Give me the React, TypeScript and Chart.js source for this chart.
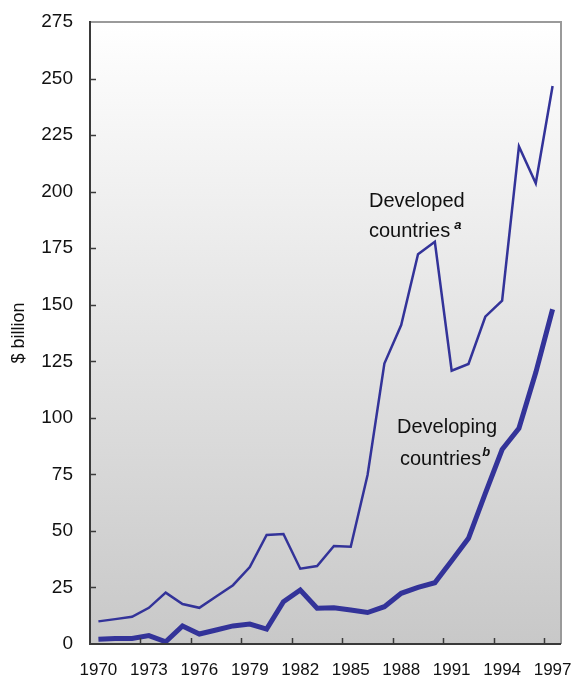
import React, { useEffect, useRef } from "react";
import { Chart, registerables } from "chart.js";

Chart.register(...registerables);

const years = [
  "1970", "1971", "1972", "1973", "1974", "1975", "1976", "1977", "1978", "1979",
  "1980", "1981", "1982", "1983", "1984", "1985", "1986", "1987", "1988", "1989",
  "1990", "1991", "1992", "1993", "1994", "1995", "1996", "1997",
];

const developed = [
  10, 11, 12, 16, 22.7, 17.7, 16, 21, 26, 34,
  48.2, 48.6, 33.3, 34.5, 43.3, 43, 74.7, 124, 141, 172.3,
  177.8, 120.8, 123.8, 144.7, 151.8, 220, 203.7, 246.7,
];

const developing = [
  2.1, 2.4, 2.4, 3.7, 1.0, 8, 4.4, 6.2, 8, 8.8,
  6.6, 18.7, 23.9, 15.8, 16, 15, 13.9, 16.5, 22.4, 25,
  27.1, 36.8, 46.7, 66.6, 86, 95.4, 120, 148,
];

const yMin = 0;
const yMax = 275;
const yStep = 25;
const labelEvery = 3;

const LINE_COLOR = "#333399";
const FONT = "'Liberation Sans', Arial, sans-serif";

const bgPlugin = {
  id: "bgGradient",
  beforeDraw(chart: any) {
    const { ctx, chartArea } = chart;
    const { left, top, right, bottom } = chartArea;
    const g = ctx.createLinearGradient(0, top, 0, bottom);
    g.addColorStop(0, "#ffffff");
    g.addColorStop(1, "#c8c8c8");
    ctx.save();
    ctx.fillStyle = g;
    ctx.fillRect(left, top, right - left, bottom - top);
    ctx.restore();
  },
};

const framePlugin = {
  id: "frame",
  afterDraw(chart: any) {
    const { ctx, chartArea, scales } = chart;
    const { left, top, right, bottom } = chartArea;
    const xs = scales.x;
    const ys = scales.y;
    ctx.save();
    // top & right border
    ctx.strokeStyle = "#9a9a9a";
    ctx.lineWidth = 2;
    ctx.beginPath();
    ctx.moveTo(left, top);
    ctx.lineTo(right, top);
    ctx.lineTo(right, bottom);
    ctx.stroke();
    // left & bottom axes
    ctx.strokeStyle = "#3a3a3a";
    ctx.lineWidth = 2;
    ctx.beginPath();
    ctx.moveTo(left, top - 1);
    ctx.lineTo(left, bottom);
    ctx.lineTo(right, bottom);
    ctx.stroke();
    // y ticks (inside)
    ctx.lineWidth = 1.5;
    for (let v = yMin + yStep; v < yMax; v += yStep) {
      const py = Math.round(ys.getPixelForValue(v)) + 0.5;
      ctx.beginPath();
      ctx.moveTo(left, py);
      ctx.lineTo(left + 6, py);
      ctx.stroke();
    }
    // x ticks (inside) at category boundaries
    const half = (xs.getPixelForValue(1) - xs.getPixelForValue(0)) / 2;
    for (let i = labelEvery; i < years.length; i += labelEvery) {
      const px = Math.round(xs.getPixelForValue(i) - half) + 0.5;
      ctx.beginPath();
      ctx.moveTo(px, bottom);
      ctx.lineTo(px, bottom - 6);
      ctx.stroke();
    }
    // annotations
    ctx.fillStyle = "#111111";
    ctx.textBaseline = "alphabetic";
    ctx.textAlign = "left";
    ctx.font = `20px ${FONT}`;
    ctx.fillText("Developed", 369, 207);
    ctx.fillText("countries", 369, 237);
    let w = ctx.measureText("countries").width;
    ctx.font = `italic bold 13px ${FONT}`;
    ctx.fillText("a", 369 + w + 4, 229);

    ctx.font = `20px ${FONT}`;
    ctx.fillText("Developing", 397, 433);
    ctx.fillText("countries", 400, 465);
    w = ctx.measureText("countries").width;
    ctx.font = `italic bold 13px ${FONT}`;
    ctx.fillText("b", 400 + w + 1, 456);
    ctx.restore();
  },
};

export default function App() {
  const canvasRef = useRef<HTMLCanvasElement | null>(null);

  useEffect(() => {
    document.body.style.margin = "0";
    const canvas = canvasRef.current;
    if (!canvas) return;
    const chart = new Chart(canvas, {
      type: "line",
      data: {
        labels: years,
        datasets: [
          {
            label: "Developed countries",
            data: developed,
            borderColor: LINE_COLOR,
            borderWidth: 2.5,
            pointRadius: 0,
            tension: 0,
            fill: false,
          },
          {
            label: "Developing countries",
            data: developing,
            borderColor: LINE_COLOR,
            borderWidth: 5,
            pointRadius: 0,
            tension: 0,
            fill: false,
          },
        ],
      },
      options: {
        responsive: false,
        animation: false,
        maintainAspectRatio: false,
        layout: { padding: { top: 22, right: 12, left: 0, bottom: 0 } },
        plugins: {
          legend: { display: false },
          tooltip: { enabled: false },
        },
        scales: {
          x: {
            type: "category",
            offset: true,
            grid: { display: false, drawTicks: false },
            border: { display: false },
            ticks: {
              autoSkip: false,
              maxRotation: 0,
              minRotation: 0,
              padding: 16,
              color: "#111111",
              font: { family: FONT, size: 17 },
              callback: (_v: any, i: number) => (i % labelEvery === 0 ? years[i] : ""),
            },
            afterFit: (s: any) => {
              s.height = 35;
              s.paddingLeft = 0;
              s.paddingRight = 0;
            },
          },
          y: {
            min: yMin,
            max: yMax,
            grid: { display: false, drawTicks: false },
            border: { display: false },
            ticks: {
              stepSize: yStep,
              padding: 17,
              color: "#111111",
              font: { family: FONT, size: 19 },
            },
            title: {
              display: true,
              text: "$ billion",
              color: "#111111",
              font: { family: FONT, size: 18 },
              padding: { top: 8, bottom: 0 },
            },
            afterFit: (s: any) => {
              s.width = 90;
              s.paddingTop = 0;
              s.paddingBottom = 0;
            },
          },
        },
      },
      plugins: [bgPlugin, framePlugin],
    });
    return () => chart.destroy();
  }, []);

  return (
    <div style={{ width: 573, height: 679 }}>
      <canvas ref={canvasRef} width={573} height={679} style={{ display: "block" }} />
    </div>
  );
}
